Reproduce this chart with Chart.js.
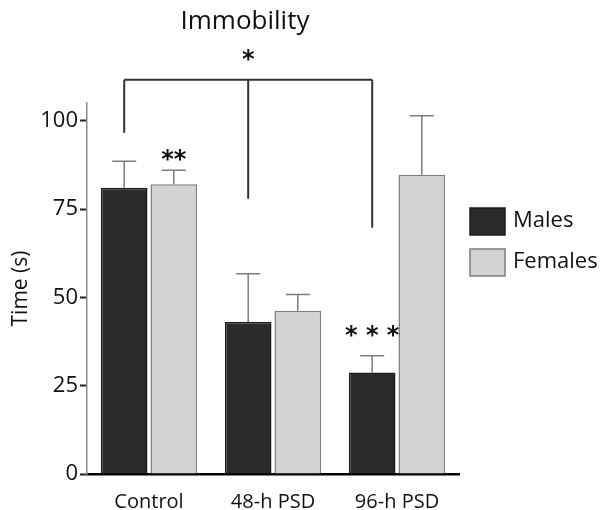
<!DOCTYPE html>
<html>
<head>
<meta charset="utf-8">
<script src="https://cdn.jsdelivr.net/npm/chart.js@4.4.1/dist/chart.umd.min.js"></script>
<style>
  html, body { margin: 0; padding: 0; background: #fff; }
  #wrap { width: 606px; height: 510px; }
</style>
</head>
<body>
<div id="wrap"><canvas id="immobilityChart"></canvas></div>
<script>
const groups = ['Control', '48-h PSD', '96-h PSD'];
const seriesNames = ['Males', 'Females'];
const malesMean = [81, 43, 28.7];
const femalesMean = [82, 46.2, 84.7];
const malesErr = [88.5, 56.7, 33.5];
const femalesErr = [86, 50.8, 101.4];
const yTicks = [0, 25, 50, 75, 100];
const chartTitle = 'Immobility';

// significance marks: [group, series, value, text]
const starMarks = [[0, 1, 89.8, '**'], [2, 0, 40, '* * *']];
// bracket: top value, drop end values per group, star value
const bracketTop = 111.6;
const bracketEnds = [96.6, 77.9, 69.7];
const bracketStar = 118;

const errTops = [malesErr, femalesErr];

const annotations = {
    id: 'annotations',
    afterDatasetsDraw(chart) {
        const ctx = chart.ctx;
        const y = chart.scales.y;
        ctx.save();
        // title
        ctx.fillStyle = '#111';
        ctx.textAlign = 'center';
        ctx.textBaseline = 'middle';
        ctx.font = '26px "Open Sans"';
        ctx.fillText(chartTitle, 245, 22);
        // error bars
        ctx.strokeStyle = '#7d7d7d';
        ctx.lineWidth = 1.5;
        chart.data.datasets.forEach((ds, di) => {
            const meta = chart.getDatasetMeta(di);
            meta.data.forEach((bar, i) => {
                const top = y.getPixelForValue(errTops[di][i]);
                ctx.beginPath();
                ctx.moveTo(bar.x, bar.y);
                ctx.lineTo(bar.x, top);
                ctx.moveTo(bar.x - 12, top);
                ctx.lineTo(bar.x + 12, top);
                ctx.stroke();
            });
        });
        // bracket
        const m = chart.getDatasetMeta(0).data;
        const yTop = y.getPixelForValue(bracketTop);
        ctx.strokeStyle = '#333';
        ctx.lineWidth = 2;
        ctx.beginPath();
        ctx.moveTo(m[0].x, yTop);
        ctx.lineTo(m[2].x, yTop);
        m.forEach((bar, i) => {
            ctx.moveTo(bar.x, yTop);
            ctx.lineTo(bar.x, y.getPixelForValue(bracketEnds[i]));
        });
        ctx.stroke();
        // stars
        ctx.fillStyle = '#111';
        ctx.font = 'bold 24px "DejaVu Sans"';
        ctx.fillText('*', m[1].x, y.getPixelForValue(bracketStar) + 4);
        starMarks.forEach(([g, s, v, t]) => {
            const bar = chart.getDatasetMeta(s).data[g];
            ctx.fillText(t, bar.x, y.getPixelForValue(v) + 4);
        });
        // legend
        ctx.font = '22px "Open Sans"';
        ctx.textAlign = 'left';
        chart.data.datasets.forEach((ds, di) => {
            const top = 208 + di * 41;
            ctx.fillStyle = ds.backgroundColor;
            ctx.fillRect(470, top, 35, 27);
            ctx.strokeStyle = ds.borderColor;
            ctx.lineWidth = 1.5;
            ctx.strokeRect(470, top, 35, 27);
            ctx.fillStyle = '#111';
            ctx.fillText(ds.label, 513, top + 13);
        });
        ctx.restore();
    }
};

const ctx = document.getElementById('immobilityChart').getContext('2d');
new Chart(ctx, {
    type: 'bar',
    data: {
        labels: groups,
        datasets: [{
            label: seriesNames[0],
            data: malesMean,
            backgroundColor: '#2b2b2b',
            borderColor: '#1c1c1c',
            borderWidth: 1.5,
            categoryPercentage: 0.8,
            barPercentage: 0.94
        }, {
            label: seriesNames[1],
            data: femalesMean,
            backgroundColor: '#d3d3d3',
            borderColor: '#7f7f7f',
            borderWidth: 1.5,
            categoryPercentage: 0.8,
            barPercentage: 0.94
        }]
    },
    options: {
        responsive: true,
        maintainAspectRatio: false,
        animation: false,
        layout: { padding: { left: 0, right: 147, top: 103, bottom: 0 } },
        plugins: {
            legend: { display: false },
            tooltip: { enabled: false }
        },
        scales: {
            x: {
                grid: { display: false },
                border: { color: '#000', width: 2.5 },
                ticks: {
                    color: '#111',
                    padding: 8,
                    font: { family: 'Open Sans', size: 20 }
                },
                afterFit: s => { s.height = 36; }
            },
            y: {
                min: 0,
                max: 105,
                afterBuildTicks: s => { s.ticks = yTicks.map(v => ({ value: v })); },
                grid: {
                    drawOnChartArea: false,
                    tickLength: 7,
                    tickWidth: 2,
                    tickColor: '#222'
                },
                border: { color: '#8a8a8a', width: 1.5 },
                ticks: {
                    color: '#111',
                    padding: 2,
                    font: { family: 'Open Sans', size: 22 }
                },
                title: {
                    display: true,
                    text: 'Time (s)',
                    color: '#111',
                    font: { family: 'Open Sans', size: 21 },
                    padding: { top: 8, bottom: 0 }
                },
                afterFit: s => { s.width = 87; }
            }
        }
    },
    plugins: [annotations]
});
</script>
</body>
</html>
